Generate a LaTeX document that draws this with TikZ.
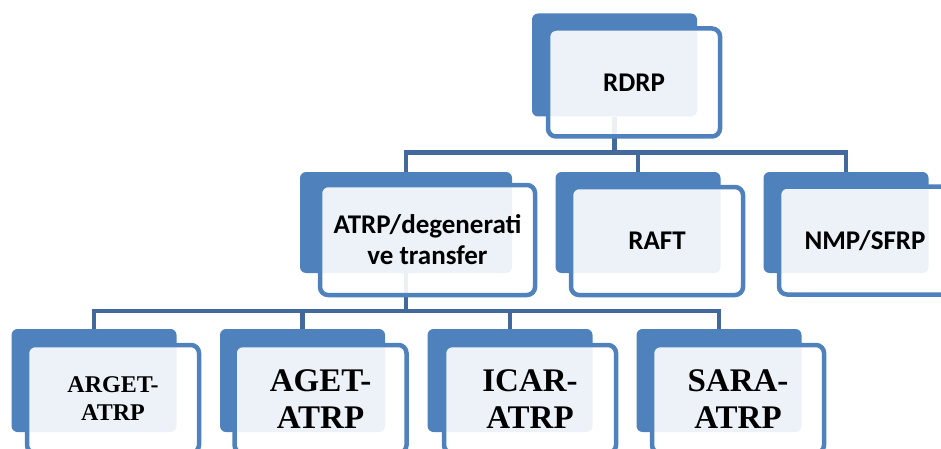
\documentclass[tikz,border=0pt]{standalone}
\usepackage{fontspec}
\setsansfont{Carlito}
\newfontfamily\cambria{Liberation Serif}
\usetikzlibrary{calc,backgrounds}
\definecolor{accent}{HTML}{4F81BD}
\definecolor{linkblue}{HTML}{43699C}
\tikzset{%
     backbox/.style = {rectangle, rounded corners=6pt, fill=accent,
                       minimum width=165pt, minimum height=103pt, inner sep=0pt},
     textbox/.style = {rectangle, rounded corners=8pt, draw=accent, line width=4.5pt,
                       fill=white, fill opacity=0.9, text opacity=1,
                       minimum width=172pt, minimum height=108pt,
                       inner sep=0pt, align=center},
  upperbox/.style = {textbox, font=\sffamily\bfseries\fontsize{27}{31}\selectfont},
  lowerbox/.style = {textbox, font=\cambria\bfseries\fontsize{33}{37}\selectfont},
      link/.style = {draw=linkblue, line width=4.5pt},
}
\begin{document}
\begin{tikzpicture}[x=1pt, y=-1pt]
  \useasboundingbox (0,0) rectangle (941,449);

  % top
  \node (bRDRP)  [backbox]  at (614.5,65) {};
  \node (onRDRP) [upperbox] at ($(bRDRP)+(19.5,17.5)$) {RDRP};

  % second row
  \node (bATRP)  [backbox, minimum width=212pt, minimum height=101pt] at (406,222.5) {};
  \node (onATRP) [upperbox, minimum width=215pt, minimum height=110pt]
        at ($(bATRP)+(21.5,17.5)$) {ATRP/degenerati\\ve transfer};
  \node (bRAFT)  [backbox, minimum height=101pt] at (638,222.5) {};
  \node (onRAFT) [upperbox] at ($(bRAFT)+(19,18.5)$) {RAFT};
  \node (bNMP)   [backbox, minimum height=101pt] at (846,222.5) {};
  \node (onNMP)  [upperbox] at ($(bNMP)+(19,18)$) {NMP/SFRP};

  % third row
  \node (bARGET)  [backbox]  at (94,380.5) {};
  \node (onARGET) [lowerbox, font=\cambria\bfseries\fontsize{24}{28}\selectfont]
        at ($(bARGET)+(19,18.5)$) {ARGET-\\ATRP};
  \node (bAGET)   [backbox]  at (302.5,380.5) {};
  \node (onAGET)  [lowerbox] at ($(bAGET)+(18,18.5)$) {AGET-\\ATRP};
  \node (bICAR)   [backbox]  at (510,380.5) {};
  \node (onICAR)  [lowerbox] at ($(bICAR)+(20,18.5)$) {ICAR-\\ATRP};
  \node (bSARA)   [backbox]  at (719,380.5) {};
  \node (onSARA)  [lowerbox] at ($(bSARA)+(19,18.5)$) {SARA-\\ATRP};

  % connectors, behind the boxes
  \begin{scope}[on background layer]
    \draw[link] (bRDRP.south) -- ++(0,36) -| (bATRP.north);
    \draw[link] (bRDRP.south) -- ++(0,36) -| (bRAFT.north);
    \draw[link] (bRDRP.south) -- ++(0,36) -| (bNMP.north);
    \draw[link] (bATRP.south) -- ++(0,38) -| (bARGET.north);
    \draw[link] (bATRP.south) -- ++(0,38) -| (bAGET.north);
    \draw[link] (bATRP.south) -- ++(0,38) -| (bICAR.north);
    \draw[link] (bATRP.south) -- ++(0,38) -| (bSARA.north);
  \end{scope}
\end{tikzpicture}
\end{document}
